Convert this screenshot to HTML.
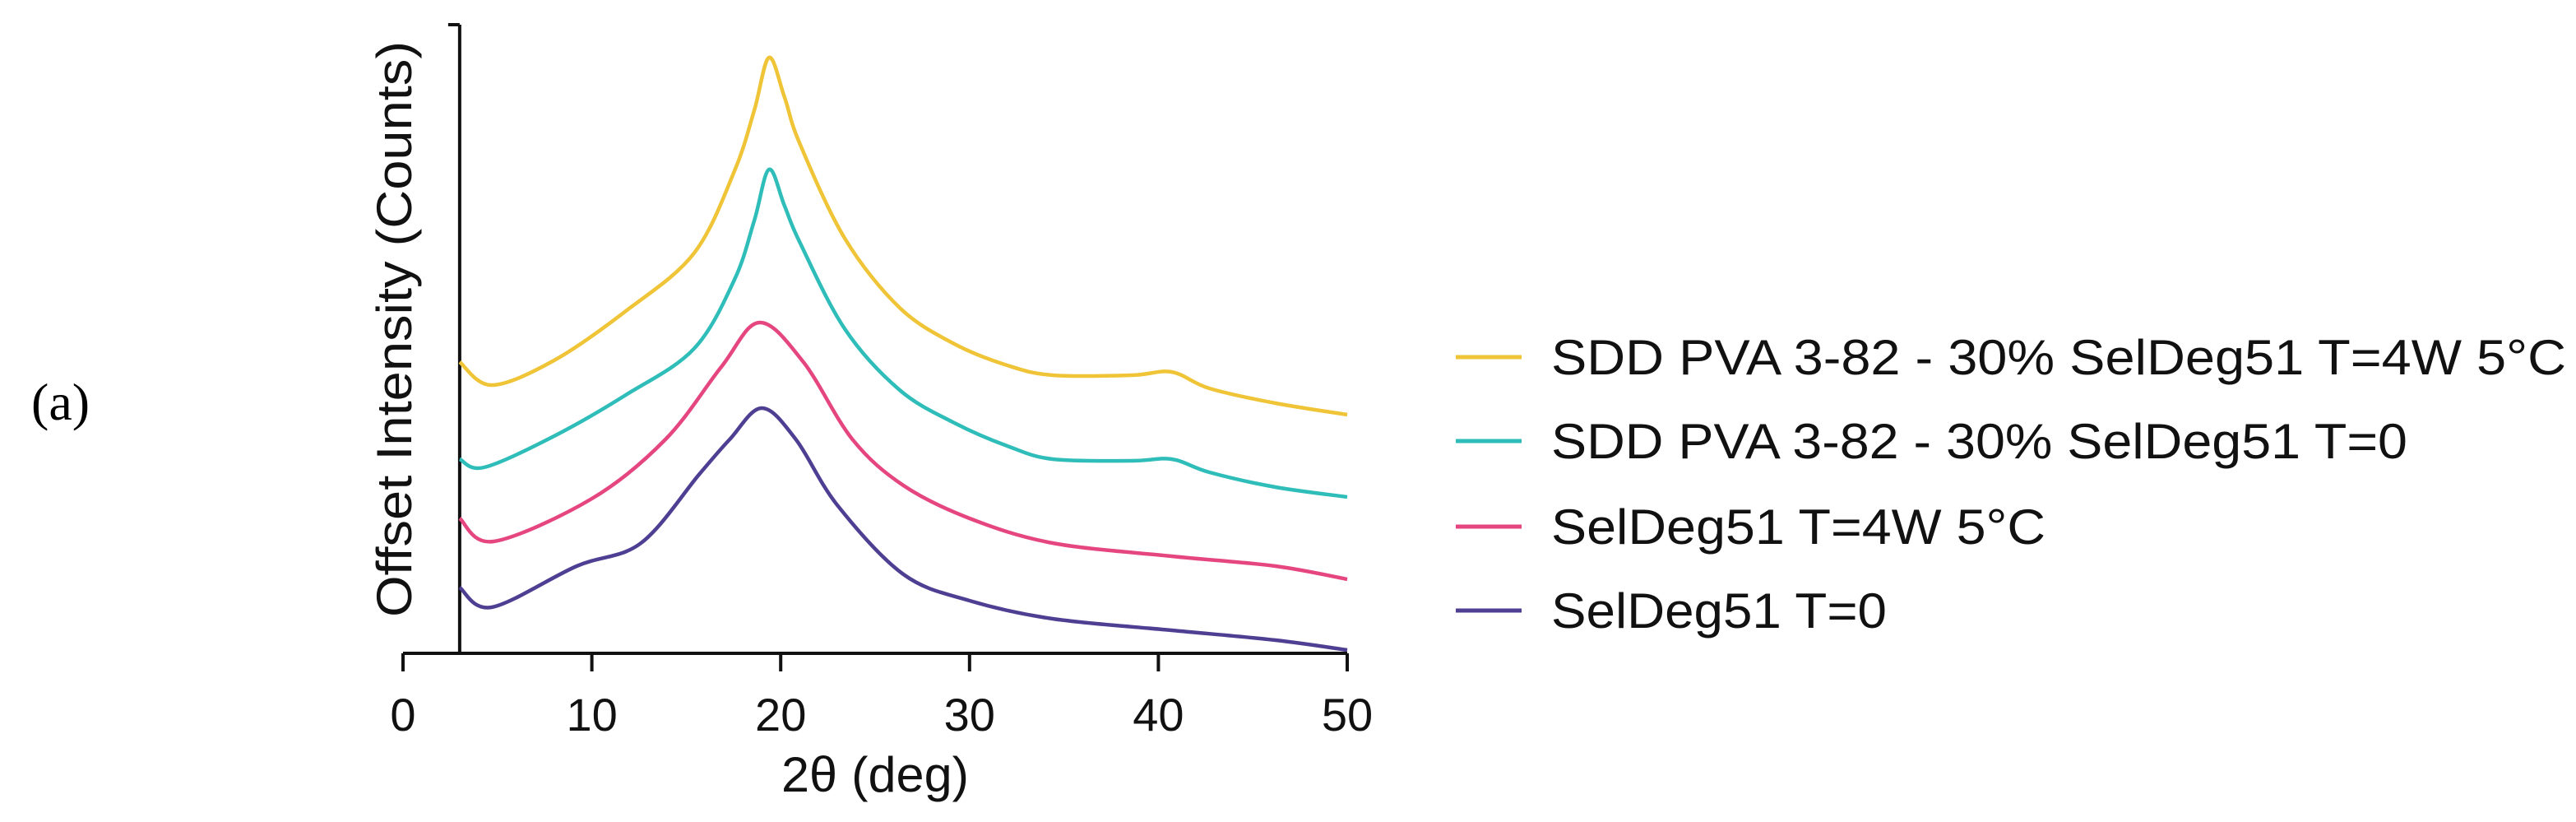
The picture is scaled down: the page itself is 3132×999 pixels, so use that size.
<!DOCTYPE html>
<html><head><meta charset="utf-8"><style>
html,body{margin:0;padding:0;background:#fff;}
svg{display:block;font-family:"Liberation Sans",Arial,sans-serif;}
</style></head><body>
<svg id="chart" width="3132" height="999" viewBox="0 0 3132 999" xmlns="http://www.w3.org/2000/svg">
<text x="38" y="510" font-family="Liberation Serif,serif" font-size="64">(a)</text>
<g id="plot"></g>
<g id="legend"></g>
</svg>
<script>
const xTicks = [0,10,20,30,40,50];
const seriesNames = ["SDD PVA 3-82 - 30% SelDeg51 T=4W 5°C","SDD PVA 3-82 - 30% SelDeg51 T=0","SelDeg51 T=4W 5°C","SelDeg51 T=0"];
const seriesColors = ["#f0c437","#2fbdb9","#e5467f","#4e3f93"];
const yellowX = [3,4.7,8,11.8,15.4,17.55,18.6,19.38,20.2,21.0,23.4,26.3,29.2,32,34.4,38.6,40.7,42.7,46.2,50];
const yellowY = [177,163,178,208,243,293,330,362,338,310,252,210,188,175,169,169,171,161,152,145];
const cyanX = [3,4.3,8,11.8,15.4,17.55,18.6,19.38,20.2,21.0,23.4,26.3,29.2,32,34.4,38.6,40.7,42.7,46.2,50];
const cyanY = [118,113,132,157,185,227,263,294,272,250,197,160,140,126,118,117,118,110,101,95];
const pinkX = [3,4.8,10,13.9,16.85,18.87,21.2,23.8,26.5,30,34.4,40.7,46.2,50];
const pinkY = [82,68,94,130,174,201,177,130,102,82,67,59,53,45];
const purpleX = [3,4.7,9.2,12.6,15.7,17.3,19,20.8,23,26.5,30,34.4,40.7,46.2,50];
const purpleY = [40,28,53,67,109,130,149,130,90,48,32,21,14,8,2];

const svgNS = "http://www.w3.org/2000/svg";
const plot = document.getElementById('plot');
const legend = document.getElementById('legend');
const X0=490, X1=1638, YB=794, YT=30;
const xMax=50, yMax=382;
function xs(v){return X0+(v/xMax)*(X1-X0);}
function ys(v){return YB-(v/yMax)*(YB-YT);}
function mk(tag,attrs,parent){const e=document.createElementNS(svgNS,tag);for(const k in attrs)e.setAttribute(k,attrs[k]);parent.appendChild(e);return e;}

let ax=mk('line',{x1:X0,y1:YB,x2:X1,y2:YB,stroke:'#111','stroke-width':4},plot);


let ay=mk('line',{x1:xs(3),y1:YT,x2:xs(3),y2:YB+2,stroke:'#111','stroke-width':4},plot);


let ayt=mk('line',{x1:xs(3)-14,y1:YT,x2:xs(3),y2:YT,stroke:'#111','stroke-width':4},plot);


xTicks.forEach(t=>{
  const l=mk('line',{x1:xs(t),y1:YB,x2:xs(t),y2:YB+22,stroke:'#111','stroke-width':4},plot);
  
  
  const tx=mk('text',{x:xs(t),y:888,'text-anchor':'middle','font-size':56,fill:'#111'},plot);
  tx.textContent=t;
  
  
});
let xt=mk('text',{x:(X0+X1)/2,y:962,'text-anchor':'middle','font-size':60,fill:'#111',textLength:228,lengthAdjust:'spacingAndGlyphs'},plot);
xt.textContent='2θ (deg)';


let yt=mk('text',{x:0,y:0,'text-anchor':'middle','font-size':60,fill:'#111',transform:'translate(500,400) rotate(-90)',textLength:700,lengthAdjust:'spacingAndGlyphs'},plot);
yt.textContent='Offset Intensity (Counts)';



function pathFor(xa,ya){
  const p=xa.map((x,i)=>[xs(x),ys(ya[i])]);
  let d='M'+p[0][0].toFixed(1)+','+p[0][1].toFixed(1);
  for(let i=0;i<p.length-1;i++){
    const p0=p[Math.max(i-1,0)],p1=p[i],p2=p[i+1],p3=p[Math.min(i+2,p.length-1)];
    const c1=[p1[0]+(p2[0]-p0[0])/6,p1[1]+(p2[1]-p0[1])/6];
    const c2=[p2[0]-(p3[0]-p1[0])/6,p2[1]-(p3[1]-p1[1])/6];
    d+=' C'+c1[0].toFixed(1)+','+c1[1].toFixed(1)+' '+c2[0].toFixed(1)+','+c2[1].toFixed(1)+' '+p2[0].toFixed(1)+','+p2[1].toFixed(1);
  }
  return d;
}
const allX=[yellowX,cyanX,pinkX,purpleX], allY=[yellowY,cyanY,pinkY,purpleY];
const sNames=['series-yellow','series-cyan','series-pink','series-purple'];
for(let i=3;i>=0;i--){
  const pth=mk('path',{d:pathFor(allX[i],allY[i]),fill:'none',stroke:seriesColors[i],'stroke-width':4.5,'stroke-linejoin':'round'},plot);
  
  
}
const legY=[434,536,640,742];
const legW=[1234,1041,601,408];
seriesNames.forEach((n,i)=>{
  const g=mk('g',{},legend);
  
  
  const l=mk('line',{x1:1770,y1:legY[i],x2:1850,y2:legY[i],stroke:seriesColors[i],'stroke-width':5},g);
  
  
  const t=mk('text',{x:1886,y:legY[i]+21,'font-size':60,fill:'#111',textLength:legW[i],lengthAdjust:'spacingAndGlyphs'},g);
  t.textContent=n;
  
  
});
</script>
</body></html>
